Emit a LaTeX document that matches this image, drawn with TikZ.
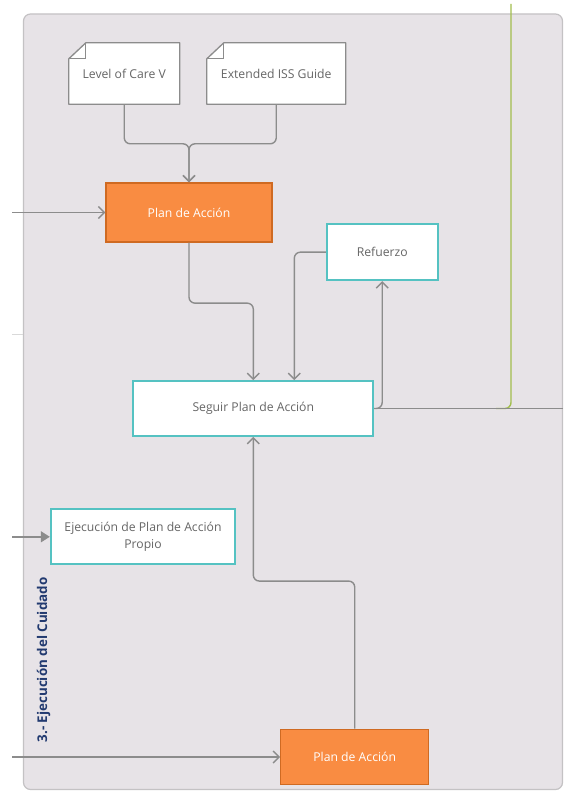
\documentclass[tikz,border=0pt]{standalone}
\usepackage{fontspec}
\setmainfont{Open Sans}
\usetikzlibrary{arrows.meta}

\definecolor{panelfill}{HTML}{E7E3E7}
\definecolor{panelline}{HTML}{C4C2C4}
\definecolor{connline}{HTML}{8C8C8C}
\definecolor{notetext}{HTML}{666666}
\definecolor{orangefill}{HTML}{F98C42}
\definecolor{orangeline}{HTML}{CF6A22}
\definecolor{tealline}{HTML}{55C2C2}
\definecolor{greenline}{HTML}{A2BE4E}
\definecolor{lanetext}{HTML}{223A70}

\tikzset{
  boxfont/.style={font=\fontsize{12.2}{16.5}\selectfont},
  notebox/.style={rectangle, draw=none, fill=white, inner sep=0pt,
    boxfont, text=notetext},
  planbox/.style={rectangle, draw=orangeline, fill=orangefill, line width=1.3pt,
    inner sep=0pt, boxfont, text=white},
  stepbox/.style={rectangle, draw=tealline, fill=white, line width=1.8pt,
    inner sep=0pt, boxfont, text=notetext, align=center},
  conn/.style={draw=connline, line width=1.4pt, rounded corners=6pt},
  barb/.style={-{Straight Barb[length=6pt,width=12pt,line width=1.4pt]}},
  filledtip/.style={-{Triangle[length=9pt,width=11pt]}},
}

\begin{document}
\begin{tikzpicture}[x=1pt,y=-1pt]
\useasboundingbox (0,0) rectangle (563,791);
\fill[white] (0,0) rectangle (563,791);

% swimlane panel
\draw[panelline, fill=panelfill, line width=1.2pt, rounded corners=7pt]
  (23.5,14) rectangle (562.5,789.5);

% faint lane divider stub
\draw[draw=black!15, line width=1pt] (12,334) -- (23,334);

% document notes with a folded corner
\node[notebox, minimum width=110.5pt, minimum height=61pt] (lvl) at (124.25,73.5) {Level of Care V};
\node[notebox, minimum width=138.5pt, minimum height=61pt] (ext) at (276.25,73.5) {Extended ISS Guide};
\foreach \n in {lvl,ext}{
  \fill[panelfill] (\n.north west) -- ([xshift=17pt]\n.north west)
    -- ([yshift=-16pt]\n.north west) -- cycle;
  \draw[connline, line width=1.3pt, line join=round]
    (\n.south west) -- (\n.south east) -- (\n.north east)
    -- ([xshift=17pt]\n.north west) -- ([yshift=-16pt]\n.north west) -- cycle;
  \draw[connline, line width=1.1pt]
    ([xshift=17pt]\n.north west) -- ([xshift=17pt,yshift=-16pt]\n.north west)
    -- ([yshift=-16pt]\n.north west);
}

% process boxes
\node[planbox, minimum width=166pt, minimum height=59pt] (plan1) at (189,212.5) {Plan de Acción};
\node[stepbox, minimum width=111pt, minimum height=56pt] (ref) at (382.2,252.2) {Refuerzo};
\node[stepbox, minimum width=240pt, minimum height=55pt] (seg) at (253.3,408.5) {Seguir Plan de Acción};
\node[stepbox, minimum width=184.6pt, minimum height=55pt] (ejec) at (143,536.8) {Ejecución de Plan de Acción\\Propio};
\node[planbox, minimum width=148pt, minimum height=55.4pt] (plan2) at (354.7,757) {Plan de Acción};

% lane title
\node[rotate=90, text=lanetext, font=\fontsize{13.4}{16}\selectfont\bfseries] (lane) at (43.5,660) {3.- Ejecución del Cuidado};

% free ends of connectors
\coordinate (in1) at (12,212.5);
\coordinate (in2) at (12,536.8);
\coordinate (in3) at (12,757);
\coordinate (out1) at (563,408.5);
\coordinate (gtop) at (511,4);
\coordinate (gend) at (496,408.5);

% incoming green flow
\draw[draw=greenline, line width=1.4pt, rounded corners=6pt] (gtop) |- (gend);

% connectors
\draw[conn, barb] (lvl.south) -- ++(0,39.6) -| (plan1.north);
\draw[conn, barb] (ext.south) -- ++(0,39.6) -| (plan1.north);
\draw[conn, barb] (in1) -- (plan1.west);
\draw[conn, barb] (plan1.south) -- ++(0,60.5) -| (seg.north);
\draw[conn, barb] (ref.west) -| ([xshift=41pt]seg.north);
\draw[conn, barb] (seg.east) -| (ref.south);
\draw[conn] (seg.east) -- (out1);
\draw[conn, barb] (plan2.north) -- ++(0,-147.6) -| (seg.south);
\draw[conn, filledtip] (in2) -- (ejec.west);
\draw[conn, barb] (in3) -- (plan2.west);
\end{tikzpicture}
\end{document}
